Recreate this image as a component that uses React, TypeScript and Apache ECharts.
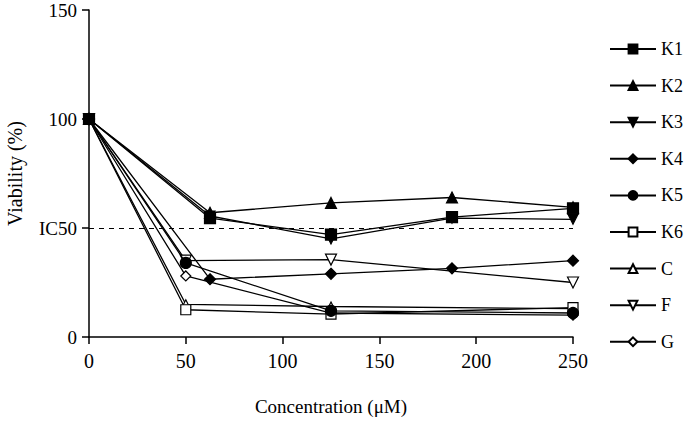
import React, { useEffect, useRef } from "react";
import * as echarts from "echarts";

const seriesNames = ["K1", "K2", "K3", "K4", "K5", "K6", "C", "F", "G"];

const k1X = [0, 62.5, 125, 187.5, 250];
const k1Y = [100, 54.5, 47, 55, 59];
const k2X = [0, 62.5, 125, 187.5, 250];
const k2Y = [100, 57, 61.5, 64, 59.5];
const k3X = [0, 62.5, 125, 187.5, 250];
const k3Y = [100, 55.5, 45, 54.5, 54];
const k4X = [0, 62.5, 125, 187.5, 250];
const k4Y = [100, 26.5, 29, 31.5, 35];
const k5X = [0, 50, 125, 250];
const k5Y = [100, 34, 12, 11];
const k6X = [0, 50, 125, 250];
const k6Y = [100, 12.5, 10.5, 13.5];
const cX = [0, 50, 125, 250];
const cY = [100, 15, 14, 13];
const fX = [0, 50, 125, 250];
const fY = [100, 35, 35.5, 25];
const gX = [0, 50, 125, 250];
const gY = [100, 28, 11, 10];

const xTicks = [0, 50, 100, 150, 200, 250];
const yTicks = [0, 50, 100, 150];
const icLine = 50;

const xs = [k1X, k2X, k3X, k4X, k5X, k6X, cX, fX, gX];
const ys = [k1Y, k2Y, k3Y, k4Y, k5Y, k6Y, cY, fY, gY];

const symbols = ["rect", "triangle", "triangle", "diamond", "circle", "rect", "triangle", "triangle", "diamond"];
const rotations = [0, 0, 180, 0, 0, 0, 0, 180, 0];
const filled = [true, true, true, true, true, false, false, false, false];
const sizes = [11, 11, 10, 11, 11, 10, 9, 11, 10];

const FONT = "'Liberation Serif', 'Times New Roman', serif";

export default function App() {
  const ref = useRef<HTMLDivElement>(null);
  useEffect(() => {
    if (!ref.current) return;
    const chart = echarts.init(ref.current, undefined, { renderer: "svg" });
    const series: any[] = seriesNames.map((name, i) => ({
      name,
      type: "line",
      data: xs[i].map((x, j) => [x, ys[i][j]]),
      symbol: symbols[i],
      symbolRotate: rotations[i],
      symbolSize: sizes[i],
      showAllSymbol: true,
      lineStyle: { color: "#000", width: 1.3 },
      itemStyle: {
        color: filled[i] ? "#000" : "#fff",
        borderColor: "#000",
        borderWidth: 1.2,
      },
      z: 10 - i,
    }));
    series[0].markLine = {
      silent: true,
      symbol: "none",
      label: { show: false },
      lineStyle: { color: "#000", type: [5, 5], width: 1.2 },
      data: [[{ coord: [0, icLine] }, { coord: [250, icLine] }]],
    };
    chart.setOption({
      animation: false,
      backgroundColor: "#fff",
      textStyle: { fontFamily: FONT },
      grid: {
        left: 89,
        right: 111,
        top: 10,
        bottom: 91,
        containLabel: false,
        outerBoundsMode: "none",
      },
      legend: {
        orient: "vertical",
        left: 604,
        top: 35,
        itemWidth: 46,
        itemHeight: 11,
        itemGap: 18.6,
        textStyle: { fontFamily: FONT, fontSize: 18, color: "#000", lineHeight: 18 },
        data: seriesNames,
      },
      xAxis: {
        type: "value",
        min: xTicks[0],
        max: xTicks[xTicks.length - 1],
        interval: 50,
        name: "Concentration (μM)",
        nameLocation: "middle",
        nameGap: 60,
        nameTextStyle: { fontFamily: FONT, fontSize: 19, color: "#000" },
        axisLine: { lineStyle: { color: "#000", width: 1.5 } },
        axisTick: { show: true, length: 7, lineStyle: { color: "#000", width: 1.5 } },
        axisLabel: { fontFamily: FONT, fontSize: 20, color: "#000", margin: 14 },
        splitLine: { show: false },
      },
      yAxis: {
        type: "value",
        min: yTicks[0],
        max: yTicks[yTicks.length - 1],
        interval: 50,
        name: "Viability (%)",
        nameLocation: "middle",
        nameGap: 64,
        nameRotate: 90,
        nameTextStyle: { fontFamily: FONT, fontSize: 20, color: "#000" },
        axisLine: { show: true, lineStyle: { color: "#000", width: 1.5 } },
        axisTick: { show: true, length: 7, lineStyle: { color: "#000", width: 1.5 } },
        axisLabel: {
          fontFamily: FONT,
          fontSize: 19,
          color: "#000",
          margin: 12,
          formatter: (v: number) => (v === icLine ? "IC50" : String(v)),
        },
        splitLine: { show: false },
      },
      series,
    });
    return () => chart.dispose();
  }, []);
  return (
    <div
      ref={ref}
      style={{ position: "fixed", left: 0, top: 0, width: 684, height: 428, background: "#fff" }}
    />
  );
}
